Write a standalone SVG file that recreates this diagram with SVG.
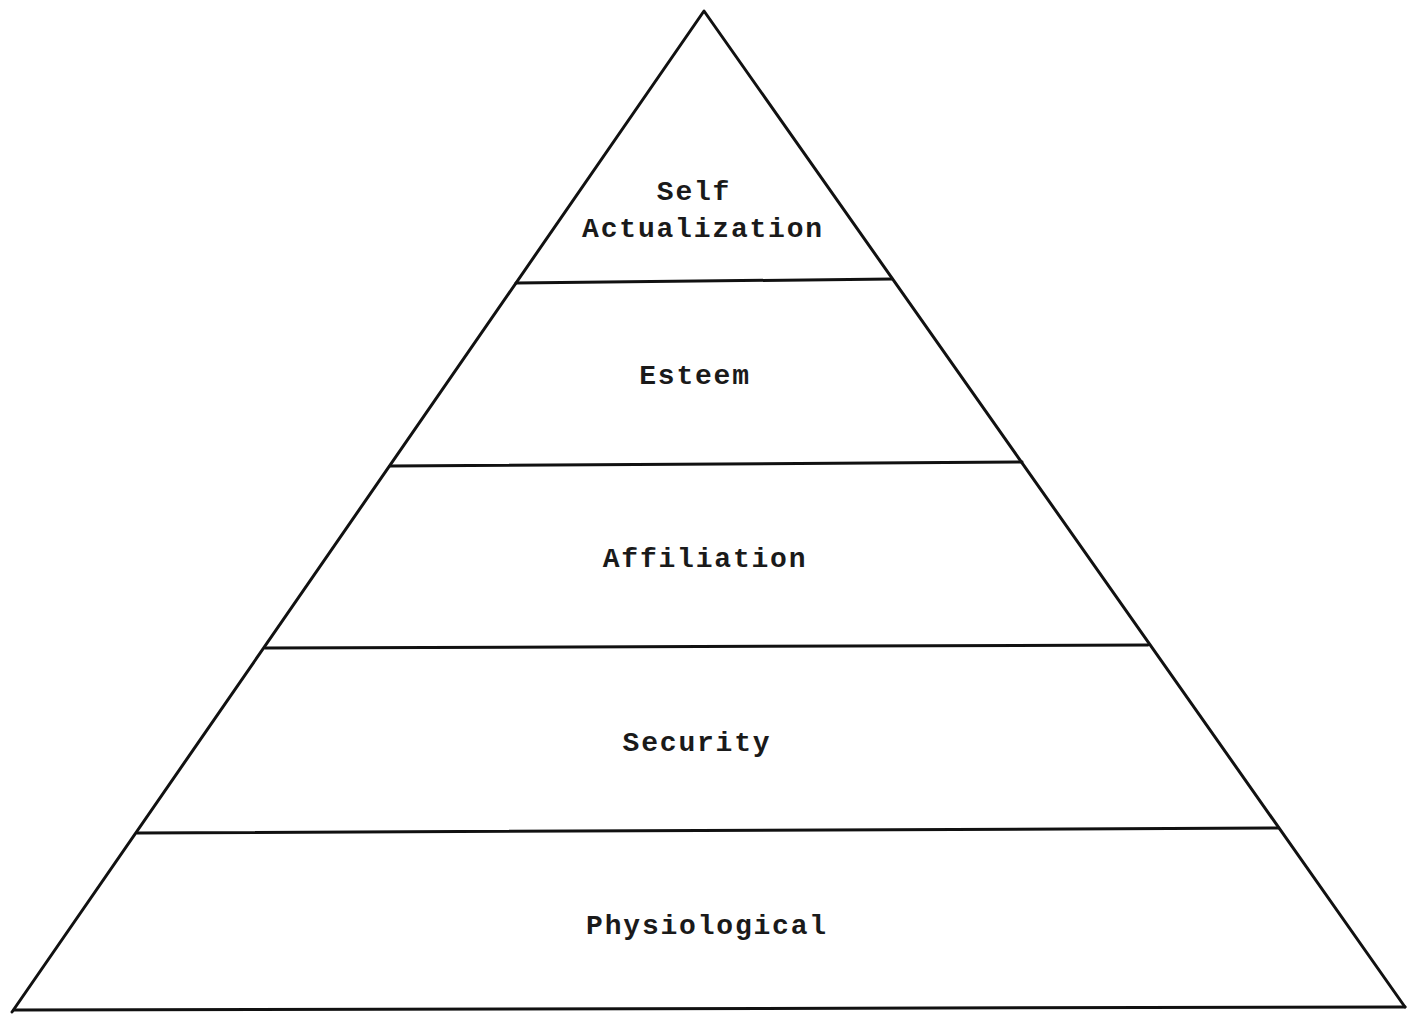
<svg xmlns="http://www.w3.org/2000/svg" width="1420" height="1014" viewBox="0 0 1420 1014">
  <style>
    .edge { stroke: #111; stroke-width: 3; fill: none; stroke-linecap: round; stroke-linejoin: round; }
    .label { font-family: "Liberation Mono", "DejaVu Sans Mono", monospace; font-size: 28px; font-weight: bold; fill: #1a1a1a; text-anchor: middle; letter-spacing: 1.8px; }
  </style>
  <rect width="1420" height="1014" fill="#ffffff"/>

  <!-- pyramid outline and tier dividers -->
  <g id="connectors">
    <polyline class="edge" points="12,1012 704,11 1405,1007"/>
    <line class="edge" x1="14" y1="1010" x2="1405" y2="1007"/>
    <line class="edge" x1="516" y1="283" x2="892" y2="279"/>
    <line class="edge" x1="390" y1="466" x2="1022" y2="462"/>
    <line class="edge" x1="265" y1="648" x2="1148" y2="645"/>
    <line class="edge" x1="137" y1="833" x2="1278" y2="828"/>
  </g>

  <g id="self-actualization">
    <text class="label" x="694" y="200">Self</text>
    <text class="label" x="703" y="237">Actualization</text>
  </g>
  <g id="esteem">
    <text class="label" x="695" y="384">Esteem</text>
  </g>
  <g id="affiliation">
    <text class="label" x="705" y="567">Affiliation</text>
  </g>
  <g id="security">
    <text class="label" x="697" y="751">Security</text>
  </g>
  <g id="physiological">
    <text class="label" x="707" y="934">Physiological</text>
  </g>
</svg>
